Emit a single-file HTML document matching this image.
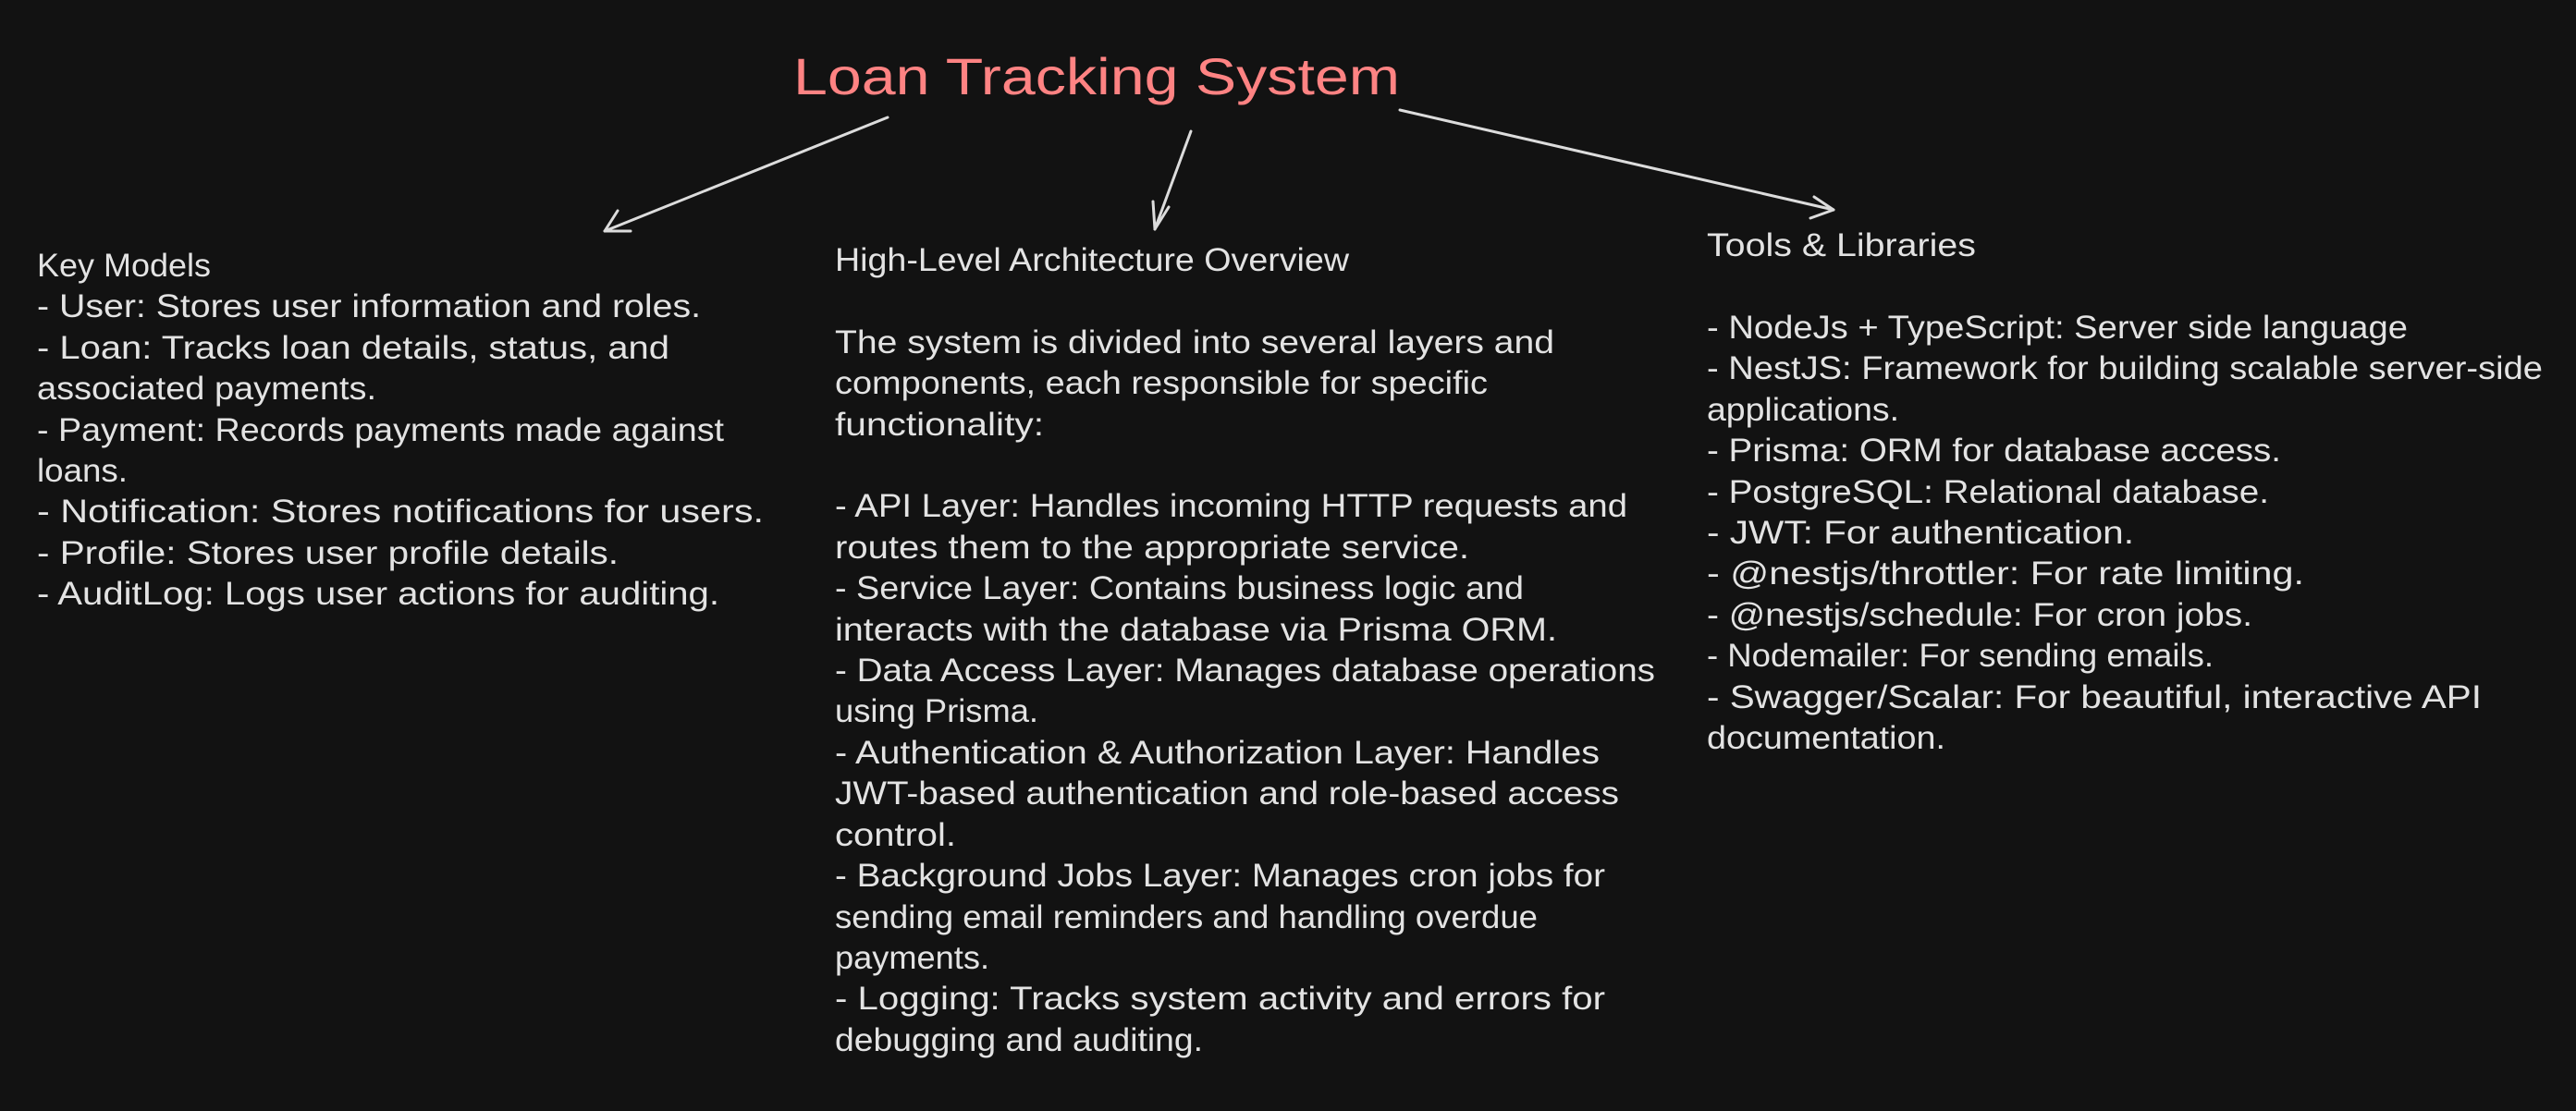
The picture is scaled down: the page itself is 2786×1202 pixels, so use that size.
<!DOCTYPE html>
<html><head><meta charset="utf-8"><style>
html,body{margin:0;padding:0;background:#121212;}
svg{display:block}
text{font-family:"Liberation Sans",sans-serif;fill:#e3e3e3;font-size:35px;}
</style></head><body>
<svg width="2786" height="1202" viewBox="0 0 2786 1202" xmlns="http://www.w3.org/2000/svg">
<rect width="2786" height="1202" fill="#121212"/>
<text x="858" y="102" style="font-size:56px;fill:#ff8383" textLength="656" lengthAdjust="spacingAndGlyphs">Loan Tracking System</text>
<g stroke="#dcdcdc" stroke-width="3" fill="none" stroke-linecap="round">
<path d="M960 127 L654 250"/><path d="M654 250 L682 250 M654 250 L668 228"/>
<path d="M1288 142 L1249 248"/><path d="M1249 248 L1247 218 M1249 248 L1264 224"/>
<path d="M1514 119 L1983 227"/><path d="M1983 227 L1958 236 M1983 227 L1962 213"/>
</g>
<g lengthAdjust="spacingAndGlyphs">
<text x="40" y="299" textLength="188" lengthAdjust="spacingAndGlyphs">Key Models</text>
<text x="40" y="343" textLength="718" lengthAdjust="spacingAndGlyphs">- User: Stores user information and roles.</text>
<text x="40" y="388" textLength="684" lengthAdjust="spacingAndGlyphs">- Loan: Tracks loan details, status, and</text>
<text x="40" y="432" textLength="367" lengthAdjust="spacingAndGlyphs">associated payments.</text>
<text x="40" y="477" textLength="743" lengthAdjust="spacingAndGlyphs">- Payment: Records payments made against</text>
<text x="40" y="521" textLength="98" lengthAdjust="spacingAndGlyphs">loans.</text>
<text x="40" y="565" textLength="786" lengthAdjust="spacingAndGlyphs">- Notification: Stores notifications for users.</text>
<text x="40" y="610" textLength="629" lengthAdjust="spacingAndGlyphs">- Profile: Stores user profile details.</text>
<text x="40" y="654" textLength="738" lengthAdjust="spacingAndGlyphs">- AuditLog: Logs user actions for auditing.</text>
</g>
<g>
<text x="903" y="293" textLength="556" lengthAdjust="spacingAndGlyphs">High-Level Architecture Overview</text>
<text x="903" y="382" textLength="778" lengthAdjust="spacingAndGlyphs">The system is divided into several layers and</text>
<text x="903" y="426" textLength="706" lengthAdjust="spacingAndGlyphs">components, each responsible for specific</text>
<text x="903" y="471" textLength="226" lengthAdjust="spacingAndGlyphs">functionality:</text>
<text x="903" y="559" textLength="857" lengthAdjust="spacingAndGlyphs">- API Layer: Handles incoming HTTP requests and</text>
<text x="903" y="604" textLength="686" lengthAdjust="spacingAndGlyphs">routes them to the appropriate service.</text>
<text x="903" y="648" textLength="745" lengthAdjust="spacingAndGlyphs">- Service Layer: Contains business logic and</text>
<text x="903" y="693" textLength="781" lengthAdjust="spacingAndGlyphs">interacts with the database via Prisma ORM.</text>
<text x="903" y="737" textLength="887" lengthAdjust="spacingAndGlyphs">- Data Access Layer: Manages database operations</text>
<text x="903" y="781" textLength="220" lengthAdjust="spacingAndGlyphs">using Prisma.</text>
<text x="903" y="826" textLength="827" lengthAdjust="spacingAndGlyphs">- Authentication &amp; Authorization Layer: Handles</text>
<text x="903" y="870" textLength="848" lengthAdjust="spacingAndGlyphs">JWT-based authentication and role-based access</text>
<text x="903" y="915" textLength="131" lengthAdjust="spacingAndGlyphs">control.</text>
<text x="903" y="959" textLength="833" lengthAdjust="spacingAndGlyphs">- Background Jobs Layer: Manages cron jobs for</text>
<text x="903" y="1004" textLength="760" lengthAdjust="spacingAndGlyphs">sending email reminders and handling overdue</text>
<text x="903" y="1048" textLength="167" lengthAdjust="spacingAndGlyphs">payments.</text>
<text x="903" y="1092" textLength="833" lengthAdjust="spacingAndGlyphs">- Logging: Tracks system activity and errors for</text>
<text x="903" y="1137" textLength="398" lengthAdjust="spacingAndGlyphs">debugging and auditing.</text>
</g>
<g>
<text x="1846" y="277" textLength="291" lengthAdjust="spacingAndGlyphs">Tools &amp; Libraries</text>
<text x="1846" y="366" textLength="758" lengthAdjust="spacingAndGlyphs">- NodeJs + TypeScript: Server side language</text>
<text x="1846" y="410" textLength="904" lengthAdjust="spacingAndGlyphs">- NestJS: Framework for building scalable server-side</text>
<text x="1846" y="455" textLength="208" lengthAdjust="spacingAndGlyphs">applications.</text>
<text x="1846" y="499" textLength="621" lengthAdjust="spacingAndGlyphs">- Prisma: ORM for database access.</text>
<text x="1846" y="544" textLength="608" lengthAdjust="spacingAndGlyphs">- PostgreSQL: Relational database.</text>
<text x="1846" y="588" textLength="462" lengthAdjust="spacingAndGlyphs">- JWT: For authentication.</text>
<text x="1846" y="632" textLength="646" lengthAdjust="spacingAndGlyphs">- @nestjs/throttler: For rate limiting.</text>
<text x="1846" y="677" textLength="590" lengthAdjust="spacingAndGlyphs">- @nestjs/schedule: For cron jobs.</text>
<text x="1846" y="721" textLength="548" lengthAdjust="spacingAndGlyphs">- Nodemailer: For sending emails.</text>
<text x="1846" y="766" textLength="838" lengthAdjust="spacingAndGlyphs">- Swagger/Scalar: For beautiful, interactive  API</text>
<text x="1846" y="810" textLength="258" lengthAdjust="spacingAndGlyphs">documentation.</text>
</g>
</svg>
</body></html>
